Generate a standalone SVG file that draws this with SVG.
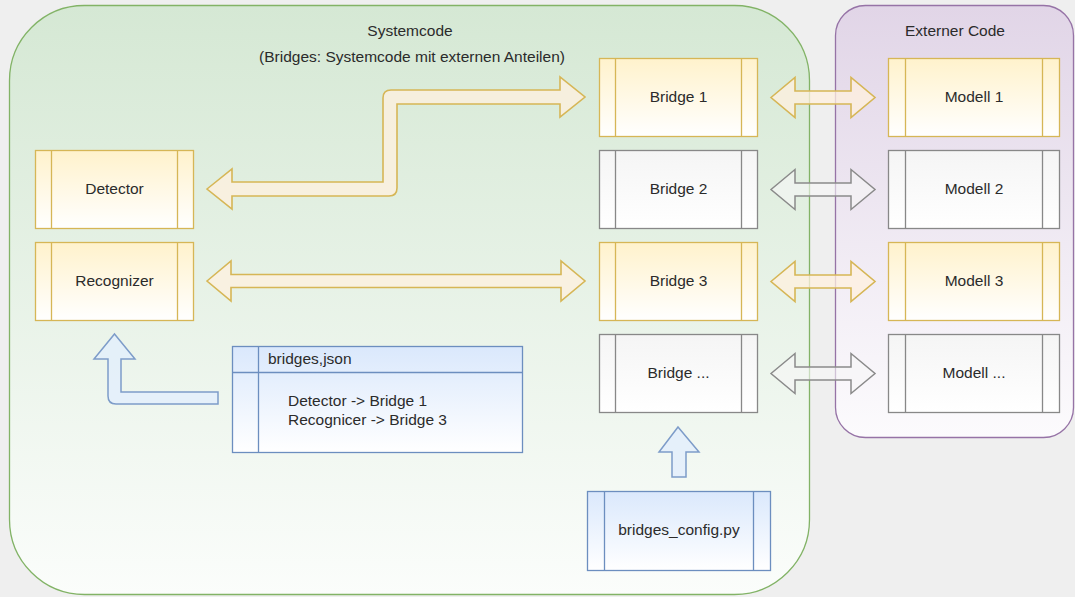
<svg xmlns="http://www.w3.org/2000/svg" width="1075" height="597" viewBox="0 0 1075 597">
<defs>
<linearGradient id="gGreen" x1="0" y1="0" x2="0" y2="1"><stop offset="0" stop-color="#d5e8d4"/><stop offset="1" stop-color="#fbfdfb"/></linearGradient>
<linearGradient id="gPurple" x1="0" y1="0" x2="0" y2="1"><stop offset="0" stop-color="#e1d5e7"/><stop offset="1" stop-color="#fcfbfd"/></linearGradient>
<linearGradient id="gYellow" x1="0" y1="0" x2="0" y2="1"><stop offset="0" stop-color="#fff2cc"/><stop offset="1" stop-color="#ffffff"/></linearGradient>
<linearGradient id="gGray" x1="0" y1="0" x2="0" y2="1"><stop offset="0" stop-color="#f5f5f5"/><stop offset="1" stop-color="#ffffff"/></linearGradient>
<linearGradient id="gBlue" x1="0" y1="0" x2="0" y2="1"><stop offset="0" stop-color="#dae8fc"/><stop offset="1" stop-color="#ffffff"/></linearGradient>
</defs>
<style>
text{font-family:"Liberation Sans",Arial,Helvetica,sans-serif;fill:#2b2b2b;font-size:15.5px}
.title{font-size:15.5px}
.mid{text-anchor:middle;dominant-baseline:central}
.yb{fill:url(#gYellow);stroke:#d6b656;stroke-width:1.3}
.yl{stroke:#d6b656;stroke-width:1.3;fill:none}
.gb{fill:url(#gGray);stroke:#888888;stroke-width:1.3}
.gl{stroke:#888888;stroke-width:1.3;fill:none}
.bb{fill:url(#gBlue);stroke:#6c8ebf;stroke-width:1.3}
.bl{stroke:#6c8ebf;stroke-width:1.3;fill:none}
.ya{fill:#fff0df;fill-opacity:0.75;stroke:#d6b656;stroke-width:1.6;stroke-linejoin:miter}
.ga{fill:#f7f7f7;fill-opacity:0.6;stroke:#8a8a8a;stroke-width:1.5}
.ba{fill:#e3eefc;fill-opacity:0.85;stroke:#7d9cc9;stroke-width:1.5}
</style>
<rect x="0" y="0" width="1075" height="597" fill="#efefef"/>
<g id="systemcode">
<rect x="9.5" y="5.5" width="800" height="589" rx="75" ry="75" fill="url(#gGreen)" stroke="#82b366" stroke-width="1.3"/>
<text class="title mid" x="410" y="30">Systemcode</text>
<text class="title mid" x="412" y="56">(Bridges: Systemcode mit externen Anteilen)</text>
</g>
<g id="externer-code">
<rect x="835.5" y="5.5" width="238" height="432" rx="30" ry="30" fill="url(#gPurple)" stroke="#9673a6" stroke-width="1.3"/>
<text class="title mid" x="955" y="30">Externer Code</text>
</g>
<g id="connectors">
<path class="ya" d="M207,189 L232,169 L232,182 L383,182 L383,98 Q383,90 391,90 L560,90 L560,77 L585,97 L560,117 L560,104 L397,104 L397,188 Q397,196 389,196 L232,196 L232,209 Z"/>
<path class="ya" d="M207,281 L231,261 L231,274.5 L561,274.5 L561,261 L585,281 L561,301 L561,287.5 L231,287.5 L231,301 Z"/>
<path class="ya" d="M771,97.5 L795,77.5 L795,91 L851,91 L851,77.5 L875,97.5 L851,117.5 L851,104 L795,104 L795,117.5 Z"/>
<path class="ga" d="M771,189.5 L795,169.5 L795,183 L851,183 L851,169.5 L875,189.5 L851,209.5 L851,196 L795,196 L795,209.5 Z"/>
<path class="ya" d="M771,281.5 L795,261.5 L795,275 L851,275 L851,261.5 L875,281.5 L851,301.5 L851,288 L795,288 L795,301.5 Z"/>
<path class="ga" d="M771,373.5 L795,353.5 L795,367 L851,367 L851,353.5 L875,373.5 L851,393.5 L851,380 L795,380 L795,393.5 Z"/>
<path class="ba" d="M114.5,334 L135,359 L121,359 L121,392 L218,392 L218,404 L116,404 Q108,404 108,396 L108,359 L94,359 Z"/>
<path class="ba" d="M678,427 L699,452 L686,452 L686,477 L672,477 L672,452 L659,452 Z"/>
</g>
<g id="detector">
<rect class="yb" x="35.5" y="150.5" width="158" height="78"/>
<path class="yl" d="M51.5,150.5V228.5M177.5,150.5V228.5"/>
<text class="mid" x="114.5" y="188.5">Detector</text>
</g>
<g id="recognizer">
<rect class="yb" x="35.5" y="242.5" width="158" height="78"/>
<path class="yl" d="M51.5,242.5V320.5M177.5,242.5V320.5"/>
<text class="mid" x="114.5" y="280.5">Recognizer</text>
</g>
<g id="bridge1">
<rect class="yb" x="599.5" y="58.5" width="158" height="78"/>
<path class="yl" d="M615.5,58.5V136.5M741.5,58.5V136.5"/>
<text class="mid" x="678.5" y="96.5">Bridge 1</text>
</g>
<g id="bridge2">
<rect class="gb" x="599.5" y="150.5" width="158" height="78"/>
<path class="gl" d="M615.5,150.5V228.5M741.5,150.5V228.5"/>
<text class="mid" x="678.5" y="188.5">Bridge 2</text>
</g>
<g id="bridge3">
<rect class="yb" x="599.5" y="242.5" width="158" height="78"/>
<path class="yl" d="M615.5,242.5V320.5M741.5,242.5V320.5"/>
<text class="mid" x="678.5" y="280.5">Bridge 3</text>
</g>
<g id="bridge-more">
<rect class="gb" x="599.5" y="334.5" width="158" height="78"/>
<path class="gl" d="M615.5,334.5V412.5M741.5,334.5V412.5"/>
<text class="mid" x="678.5" y="372.5">Bridge ...</text>
</g>
<g id="modell1">
<rect class="yb" x="888.5" y="58.5" width="171" height="78"/>
<path class="yl" d="M905.5,58.5V136.5M1042.5,58.5V136.5"/>
<text class="mid" x="974" y="96.5">Modell 1</text>
</g>
<g id="modell2">
<rect class="gb" x="888.5" y="150.5" width="171" height="78"/>
<path class="gl" d="M905.5,150.5V228.5M1042.5,150.5V228.5"/>
<text class="mid" x="974" y="188.5">Modell 2</text>
</g>
<g id="modell3">
<rect class="yb" x="888.5" y="242.5" width="171" height="78"/>
<path class="yl" d="M905.5,242.5V320.5M1042.5,242.5V320.5"/>
<text class="mid" x="974" y="280.5">Modell 3</text>
</g>
<g id="modell-more">
<rect class="gb" x="888.5" y="334.5" width="171" height="78"/>
<path class="gl" d="M905.5,334.5V412.5M1042.5,334.5V412.5"/>
<text class="mid" x="974" y="372.5">Modell ...</text>
</g>
<g id="bridges-json">
<rect class="bb" x="232.5" y="346.5" width="290" height="106"/>
<path class="bl" d="M232.5,372.5H522.5M258.5,346.5V452.5"/>
<text x="268" y="364">bridges,json</text>
<text x="288" y="406">Detector -&gt; Bridge 1</text>
<text x="288" y="425">Recognicer -&gt; Bridge 3</text>
</g>
<g id="bridges-config">
<rect class="bb" x="587.5" y="491.5" width="183" height="79"/>
<path class="bl" d="M604.5,491.5V570.5M753.5,491.5V570.5"/>
<text class="mid" x="679" y="529.5">bridges_config.py</text>
</g>
</svg>
